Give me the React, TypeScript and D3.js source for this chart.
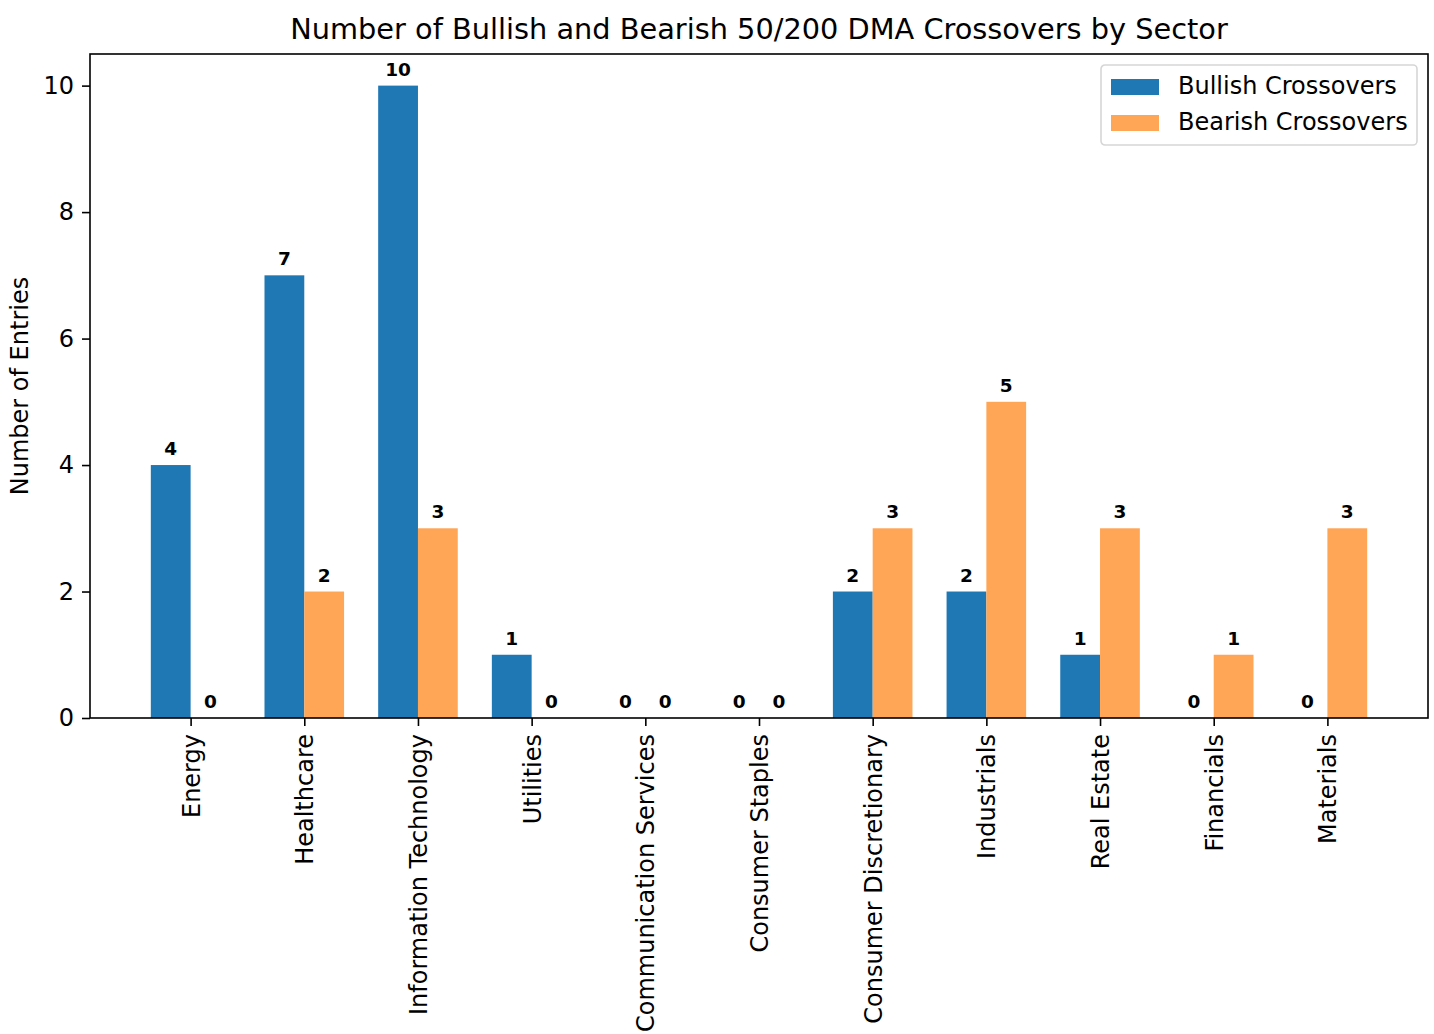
import { useRef, useEffect, useMemo } from 'react';
import * as d3 from 'd3';

const sectors = [
  'Energy',
  'Healthcare',
  'Information Technology',
  'Utilities',
  'Communication Services',
  'Consumer Staples',
  'Consumer Discretionary',
  'Industrials',
  'Real Estate',
  'Financials',
  'Materials',
];
const bullish = [4, 7, 10, 1, 0, 0, 2, 2, 1, 0, 0];
const bearish = [0, 2, 3, 0, 0, 0, 3, 5, 3, 1, 3];
const yTicks = [0, 2, 4, 6, 8, 10];

const seriesNames = ['Bullish Crossovers', 'Bearish Crossovers'];
const colors = ['#1f77b4', '#ffa556'];

const width = 1434;
const height = 1034;
const font = 'DejaVu Sans, sans-serif';

export default function App() {
  const gx = useRef<SVGGElement>(null);
  const gy = useRef<SVGGElement>(null);

  const margin = useMemo(() => ({ top: 54, right: 6, bottom: 316, left: 90 }), []);
  const innerWidth = width - margin.left - margin.right;
  const innerHeight = height - margin.top - margin.bottom;
  const barW = 0.35;

  const x = useMemo(() => {
    // matplotlib-style 5% margins around the bar extent
    const lo = -barW;
    const hi = sectors.length - 1 + barW;
    const pad = (hi - lo) * 0.05;
    return d3.scaleLinear().domain([lo - pad, hi + pad]).range([0, innerWidth]);
  }, [innerWidth]);

  const y = useMemo(() => {
    return d3.scaleLinear().domain([0, 10.5]).range([innerHeight, 0]);
  }, [innerHeight]);

  useEffect(() => {
    const el = gx.current;
    if (!el) return;
    const sel = d3.select(el);
    sel.call(
      d3
        .axisBottom(x)
        .tickValues(d3.range(sectors.length))
        .tickFormat((d) => sectors[d as number])
        .tickSize(8)
        .tickPadding(8),
    );
    sel.select('.domain').remove();
    sel.selectAll('.tick line').attr('stroke', '#000').attr('stroke-width', 1.6);
    sel
      .selectAll('.tick text')
      .attr('font-family', font)
      .attr('font-size', 24)
      .attr('fill', '#000')
      .attr('transform', 'rotate(-90)')
      .attr('text-anchor', 'end')
      .attr('x', -16)
      .attr('y', 0)
      .attr('dy', '0.35em');
    return () => {
      sel.selectAll('*').remove();
    };
  }, [x]);

  useEffect(() => {
    const el = gy.current;
    if (!el) return;
    const sel = d3.select(el);
    sel.call(d3.axisLeft(y).tickValues(yTicks).tickSize(8).tickPadding(8));
    sel.select('.domain').remove();
    sel.selectAll('.tick line').attr('stroke', '#000').attr('stroke-width', 1.6);
    sel
      .selectAll('.tick text')
      .attr('font-family', font)
      .attr('font-size', 24)
      .attr('fill', '#000');
    return () => {
      sel.selectAll('*').remove();
    };
  }, [y]);

  const series = [bullish, bearish];

  return (
    <svg
      width={width}
      height={height}
      style={{ position: 'absolute', left: 0, top: 0, background: '#fff' }}
    >
      <rect width={width} height={height} fill="#fff" />
      <text
        x={margin.left + innerWidth / 2}
        y={39}
        textAnchor="middle"
        fontFamily={font}
        fontSize={28.8}
      >
        Number of Bullish and Bearish 50/200 DMA Crossovers by Sector
      </text>
      <text
        transform={`translate(28,${margin.top + innerHeight / 2}) rotate(-90)`}
        textAnchor="middle"
        fontFamily={font}
        fontSize={24}
      >
        Number of Entries
      </text>
      <g transform={`translate(${margin.left},${margin.top})`}>
        {series.map((vals, si) =>
          vals.map((v, i) => {
            const x0 = x(i + (si === 0 ? -barW : 0));
            const x1 = x(i + (si === 0 ? 0 : barW));
            return (
              <g key={`${si}-${i}`}>
                <rect
                  x={x0}
                  y={y(v)}
                  width={x1 - x0}
                  height={y(0) - y(v)}
                  fill={colors[si]}
                />
                <text
                  x={(x0 + x1) / 2}
                  y={y(v) - 10}
                  textAnchor="middle"
                  fontFamily={font}
                  fontWeight="bold"
                  fontSize={18.5}
                >
                  {v}
                </text>
              </g>
            );
          }),
        )}
        <rect
          x={0}
          y={0}
          width={innerWidth}
          height={innerHeight}
          fill="none"
          stroke="#000"
          strokeWidth={1.6}
        />
        <g ref={gx} transform={`translate(0,${innerHeight})`} />
        <g ref={gy} />
        <g transform={`translate(${innerWidth - 327},11)`}>
          <rect
            x={0}
            y={0}
            width={316}
            height={80}
            rx={4}
            fill="#fff"
            fillOpacity={0.8}
            stroke="#d6d6d6"
            strokeWidth={1.6}
          />
          {seriesNames.map((name, i) => (
            <g key={name} transform={`translate(10,${21 + i * 36})`}>
              <rect x={0} y={-7} width={48} height={16} fill={colors[i]} />
              <text x={67} y={0} dy="0.35em" fontFamily={font} fontSize={24}>
                {name}
              </text>
            </g>
          ))}
        </g>
      </g>
    </svg>
  );
}
